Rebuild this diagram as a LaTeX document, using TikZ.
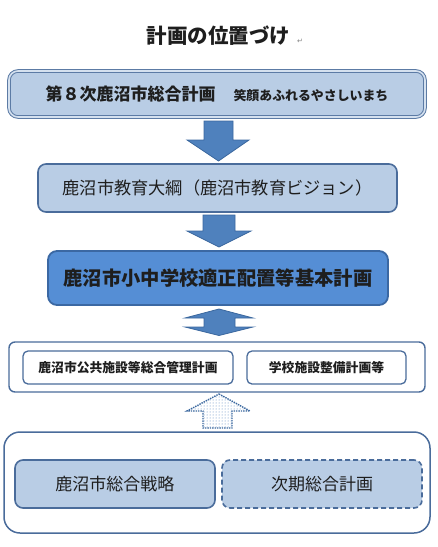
\documentclass[tikz,border=0pt]{standalone}
\usepackage{fontspec}
\newfontfamily\cjk{Noto Sans CJK JP}
\newfontfamily\dejavu{DejaVu Sans}
\usetikzlibrary{patterns}
\definecolor{lightfill}{HTML}{B9CDE5}
\definecolor{boxline}{HTML}{4A6C9B}
\definecolor{midfill}{HTML}{558ED5}
\definecolor{midline}{HTML}{3B68A3}
\definecolor{arrowfill}{HTML}{4F81BD}
\definecolor{arrowline}{HTML}{3A679E}
\definecolor{txt}{HTML}{1E1E1E}
\tikzset{
  every node/.style={font=\cjk, text=txt},
  lightbox/.style={draw=boxline, fill=lightfill, line width=1.6pt, rounded corners=8pt, inner sep=0pt},
  whitebox/.style={draw=boxline, fill=white, line width=1.4pt, rounded corners=6pt, inner sep=0pt},
  blockarrow/.style={draw=arrowline, fill=arrowfill, line width=0.8pt, line join=miter},
}
\begin{document}
\begin{tikzpicture}[x=1pt,y=-1pt]
\useasboundingbox (0,0) rectangle (438,547);
% title
\node (title) at (218.5,36) {\fontsize{20.5}{24}\selectfont\bfseries 計画の位置づけ};
\node[anchor=west, inner sep=0pt, text=gray] (ret) at (297,41) {\dejavu\fontsize{7}{8}\selectfont ↵};
% box 1
\node[draw=boxline!90, double=lightfill!60!white, line width=1pt, double distance=1.6pt,
      fill=lightfill, rounded corners=9pt, minimum width=416pt, minimum height=46pt, inner sep=0pt]
  (b1) at (217,94) {\bfseries\fontsize{17}{20}\selectfont 第８次鹿沼市総合計画\hspace{18pt}\fontsize{12.9}{15}\selectfont 笑顔あふれるやさしいまち};
% arrow 1
\draw[blockarrow] (204,121) -- (233,121) -- (233,140) -- (249,140) -- (218.5,161) -- (187,140) -- (204,140) -- cycle;
% box 2
\node[lightbox, minimum width=359pt, minimum height=48pt] (b2) at (217.5,188)
  {\fontsize{17.2}{20}\selectfont 鹿沼市教育大綱（鹿沼市教育ビジョン）};
% arrow 2
\draw[blockarrow] (203,215) -- (235,215) -- (235,231) -- (251,231) -- (219,247) -- (187,231) -- (203,231) -- cycle;
% box 3
\node[draw=midline, fill=midfill, line width=1.8pt, rounded corners=9pt, inner sep=0pt,
      minimum width=340pt, minimum height=54pt] (b3) at (218,278)
  {\bfseries\fontsize{19.3}{22}\selectfont 鹿沼市小中学校適正配置等基本計画};
% double arrow
\draw[blockarrow] (219,309) -- (253,318) -- (235,318) -- (235,327) -- (253,327) -- (219,335.5)
  -- (185,327) -- (204,327) -- (204,318) -- (185,318) -- cycle;
% box 4
\node[whitebox, minimum width=416pt, minimum height=50pt] (b4) at (217,367) {};
\node[whitebox, line width=1.3pt, rounded corners=5pt, minimum width=210pt, minimum height=33pt] (b4a) at (128,367.5)
  {\bfseries\fontsize{12.8}{15}\selectfont 鹿沼市公共施設等総合管理計画};
\node[whitebox, line width=1.3pt, rounded corners=5pt, minimum width=159pt, minimum height=33pt] (b4b) at (326.5,367.5)
  {\bfseries\fontsize{12.8}{15}\selectfont 学校施設整備計画等};
% dotted arrow
\fill[white] (219,394) -- (250,411) -- (232,411) -- (232,428) -- (203,428) -- (203,411) -- (187,411) -- cycle;
\fill[pattern=dots, pattern color=arrowfill] (219,394) -- (250,411) -- (232,411) -- (232,428) -- (203,428) -- (203,411) -- (187,411) -- cycle;
\draw[draw=arrowline, line width=1.4pt, densely dotted, line join=miter] (219,394) -- (250,411) -- (232,411) -- (232,428) -- (203,428) -- (203,411) -- (187,411) -- cycle;
% box 5
\node[whitebox, line width=1.5pt, rounded corners=16pt, minimum width=426pt, minimum height=101pt] (b5) at (217,482.5) {};
\node[lightbox, minimum width=200pt, minimum height=48pt] (b5a) at (115,484)
  {\fontsize{17}{20}\selectfont 鹿沼市総合戦略};
\node[lightbox, dashed, dash pattern=on 5pt off 3pt, minimum width=200pt, minimum height=48pt] (b5b) at (322,484)
  {\fontsize{17}{20}\selectfont 次期総合計画};
\end{tikzpicture}
\end{document}
